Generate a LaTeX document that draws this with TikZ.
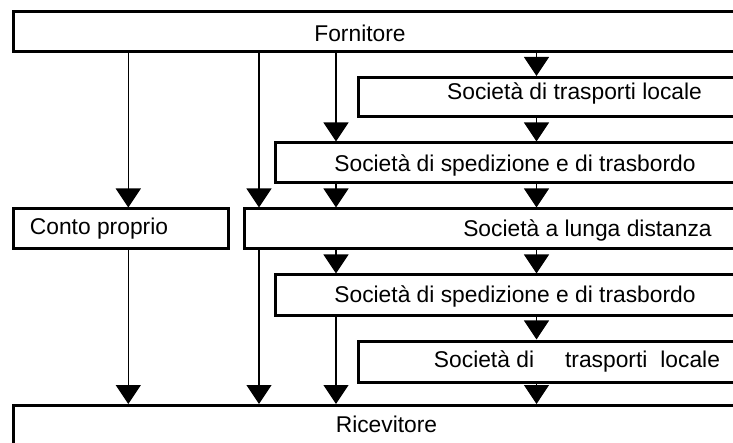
\documentclass[tikz,border=0pt]{standalone}
\usepackage{fontspec}
\setmainfont{Liberation Sans}
\usetikzlibrary{arrows.meta}

\begin{document}
\begin{tikzpicture}[x=1pt, y=-1pt,
	box/.style={draw, line width=3pt, inner sep=0pt},
	lbl/.style={anchor=base, inner sep=0pt, font=\fontsize{22.8}{27}\selectfont},
	arr/.style={-{Triangle[width=25pt,length=19pt]}, line width=1.3pt}]

	\useasboundingbox (0,0) rectangle (733,443);
	\clip (0,0) rectangle (733,443);

	% boxes (they run off the right edge)
	\node[box, minimum width=736.5, minimum height=40.5] (forn) at (381.75,31.75) {};
	\node[box, minimum width=392, minimum height=39.5] (tl1) at (554,97.25) {};
	\node[box, minimum width=474.5, minimum height=40] (sped1) at (512.75,163) {};
	\node[box, minimum width=215, minimum height=39.5] (conto) at (121,228.75) {};
	\node[box, minimum width=505.5, minimum height=39.5] (lunga) at (497.25,228.75) {};
	\node[box, minimum width=474.5, minimum height=40.5] (sped2) at (512.75,295.25) {};
	\node[box, minimum width=392, minimum height=41] (tl2) at (554,361.5) {};
	\node[box, minimum width=736.5, minimum height=54.5] (ric) at (381.75,432.75) {};

	% labels
	\node[lbl] (forn-t) at (360,42) {Fornitore};
	\node[lbl] (tl1-t) at (574.5,100) {Società di trasporti locale};
	\node[lbl] (sped1-t) at (515,171.5) {Società di spedizione e di trasbordo};
	\node[lbl] (conto-t) at (99,235) {Conto proprio};
	\node[lbl] (lunga-t) at (587.5,236.5) {Società a lunga distanza};
	\node[lbl] (sped2-t) at (515,303) {Società di spedizione e di trasbordo};
	\node[lbl] (tl2-t) at (577,367) {Società di\hspace{31pt}trasporti\hspace{13pt}locale};
	\node[lbl] (ric-t) at (386.5,432) {Ricevitore};

	% lanes
	\coordinate (l1) at (128.3,0);
	\coordinate (l2) at (259,0);
	\coordinate (l3) at (336,0);
	\coordinate (l4) at (536.5,0);

	\draw[arr] (forn.south -| l1) -- (conto.north -| l1);
	\draw[arr] (conto.south -| l1) -- (ric.north -| l1);

	\draw[arr] (forn.south -| l2) -- (lunga.north -| l2);
	\draw[arr] (lunga.south -| l2) -- (ric.north -| l2);

	\draw[arr] (forn.south -| l3) -- (sped1.north -| l3);
	\draw[arr] (sped1.south -| l3) -- (lunga.north -| l3);
	\draw[arr] (lunga.south -| l3) -- (sped2.north -| l3);
	\draw[arr] (sped2.south -| l3) -- (ric.north -| l3);

	\draw[arr] (forn.south -| l4) -- (tl1.north -| l4);
	\draw[arr] (tl1.south -| l4) -- (sped1.north -| l4);
	\draw[arr] (sped1.south -| l4) -- (lunga.north -| l4);
	\draw[arr] (lunga.south -| l4) -- (sped2.north -| l4);
	\draw[arr] (sped2.south -| l4) -- (tl2.north -| l4);
	\draw[arr] (tl2.south -| l4) -- (ric.north -| l4);
\end{tikzpicture}
\end{document}
